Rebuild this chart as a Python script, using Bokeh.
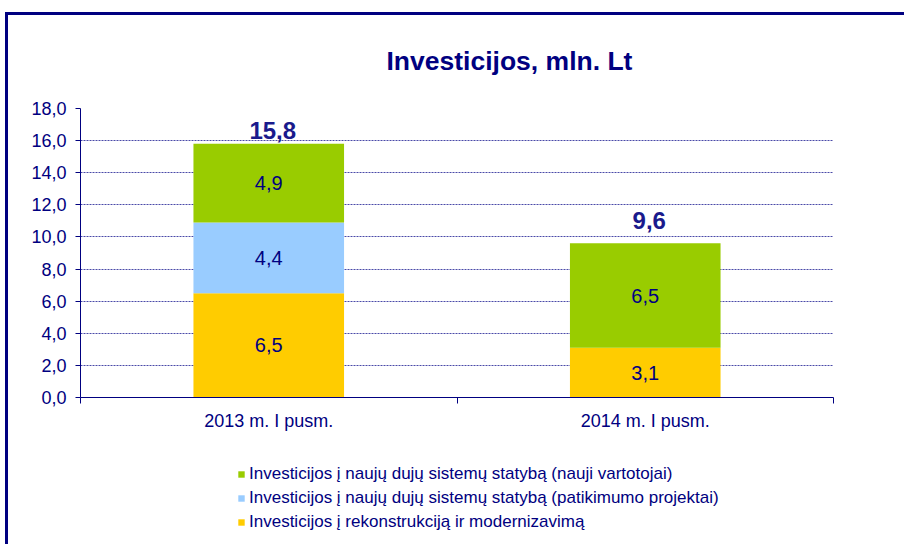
from bokeh.plotting import figure
from bokeh.layouts import column
from bokeh.models import (ColumnDataSource, FixedTicker, Legend, LegendItem,
                          Label, LabelSet, Range1d)
from bokeh.core.properties import value
from bokeh.embed import file_html
from bokeh.resources import INLINE

# ---- data ----
categories = ["2013 m. I pusm.", "2014 m. I pusm."]
series_names = [
    "Investicijos į rekonstrukciją ir modernizavimą",
    "Investicijos į naujų dujų sistemų statybą (patikimumo projektai)",
    "Investicijos į naujų dujų sistemų statybą (nauji vartotojai)",
]
rekonstrukcija = [6.5, 3.1]
patikimumo = [4.4, 0.0]
nauji = [4.9, 6.5]
y_ticks = [0, 2, 4, 6, 8, 10, 12, 14, 16, 18]
title_text = "Investicijos, mln. Lt"

# ---- styles ----
colors = ["#FFCC00", "#99CCFF", "#99CC00"]
navy = "#000080"
font = "Liberation Sans"
total_lift = [13, 23]   # px above bar top for total labels


def fmt(v):
    return f"{v:.1f}".replace(".", ",")


xs = [i + 0.5 for i in range(len(categories))]
series = [rekonstrukcija, patikimumo, nauji]
keys = ["s0", "s1", "s2"]
src = ColumnDataSource(dict(x=xs, s0=rekonstrukcija, s1=patikimumo, s2=nauji))

p = figure(frame_width=753, frame_height=289, output_backend="svg", toolbar_location=None,
           x_range=Range1d(0, len(categories)), y_range=Range1d(0, 18),
           min_border_left=72, min_border_right=71, min_border_top=93,
           min_border_bottom=60)
p.outline_line_color = None
p.background_fill_color = "white"
p.border_fill_color = "white"

# title
p.title.text = title_text
p.title.align = "left"
p.title.offset = 306
p.title.vertical_align = "top"
p.title.standoff = 61
p.title.text_font = font
p.title.text_font_size = "26.5px"
p.title.text_font_style = "bold"
p.title.text_color = navy

# grid
p.xgrid.grid_line_color = None
p.ygrid.ticker = FixedTicker(ticks=y_ticks[1:])
p.ygrid.grid_line_color = "#4a4aa8"
p.ygrid.grid_line_dash = "2 1"
p.ygrid.grid_line_width = 1

p.vbar_stack(keys, x="x", width=0.4, color=colors, source=src, line_color=None)

# y axis
ya = p.yaxis[0]
ya.ticker = FixedTicker(ticks=y_ticks)
ya.major_label_overrides = {t: fmt(t) for t in y_ticks}
ya.axis_line_color = navy
ya.major_tick_line_color = navy
ya.major_tick_out = 5
ya.major_tick_in = 0
ya.minor_tick_line_color = None
ya.major_label_text_font = font
ya.major_label_text_font_size = "18px"
ya.major_label_text_color = navy
ya.major_label_standoff = 9

# x axis
xa = p.xaxis[0]
xa.ticker = FixedTicker(ticks=xs, minor_ticks=list(range(len(categories) + 1)))
xa.major_label_overrides = {x: c for x, c in zip(xs, categories)}
xa.axis_line_color = navy
xa.major_tick_line_color = None
xa.major_tick_out = 0
xa.major_tick_in = 0
xa.minor_tick_line_color = navy
xa.minor_tick_out = 6
xa.minor_tick_in = 0
xa.major_label_text_font = font
xa.major_label_text_font_size = "18px"
xa.major_label_text_color = navy
xa.major_label_standoff = 7

# segment labels
lx, ly, lt = [], [], []
for i, x in enumerate(xs):
    base = 0.0
    for s in series:
        v = s[i]
        if v > 0:
            lx.append(x)
            ly.append(base + v / 2)
            lt.append(fmt(v))
        base += v
seg_src = ColumnDataSource(dict(x=lx, y=ly, t=lt))
p.add_layout(LabelSet(x="x", y="y", text="t", source=seg_src,
                      text_align="center", text_baseline="middle",
                      text_font=value(font), text_font_size=value("20px"),
                      text_color=navy))

# totals
for i, x in enumerate(xs):
    tot = sum(s[i] for s in series)
    p.add_layout(Label(x=x, y=tot, text=fmt(tot), x_offset=4, y_offset=total_lift[i],
                       text_align="center", text_baseline="middle",
                       text_font=font, text_font_size="24px", text_font_style="bold",
                       text_color="#1a1a8c"))

# ---- legend strip (separate figure below the chart) ----
pl = figure(width=896, height=87, output_backend="svg", toolbar_location=None,
            x_range=Range1d(0, len(categories)), y_range=Range1d(100, 101),
            min_border_left=0, min_border_right=0, min_border_top=0,
            min_border_bottom=0)
pl.axis.visible = False
pl.grid.visible = False
pl.outline_line_color = None
pl.background_fill_color = "white"
pl.border_fill_color = "white"
leg_r = pl.vbar_stack(keys, x="x", width=0.4, color=colors, source=src, line_color=None)

items = [LegendItem(label=series_names[k], renderers=[leg_r[k]]) for k in (2, 1, 0)]
legend = Legend(items=items, location=(157, 12), orientation="vertical",
                glyph_width=8, glyph_height=8, label_standoff=4,
                label_height=20, spacing=4, padding=0, margin=0,
                border_line_color=None, background_fill_alpha=0,
                label_text_font=font, label_text_font_size="17px",
                label_text_color=navy)
pl.add_layout(legend, "center")

layout = column(p, pl, spacing=0,
                styles={"border-left": f"3px solid {navy}",
                        "border-top": f"3px solid {navy}",
                        "margin-left": "5px", "margin-top": "12px"})

open("out.html", "w").write(file_html(layout, INLINE))
